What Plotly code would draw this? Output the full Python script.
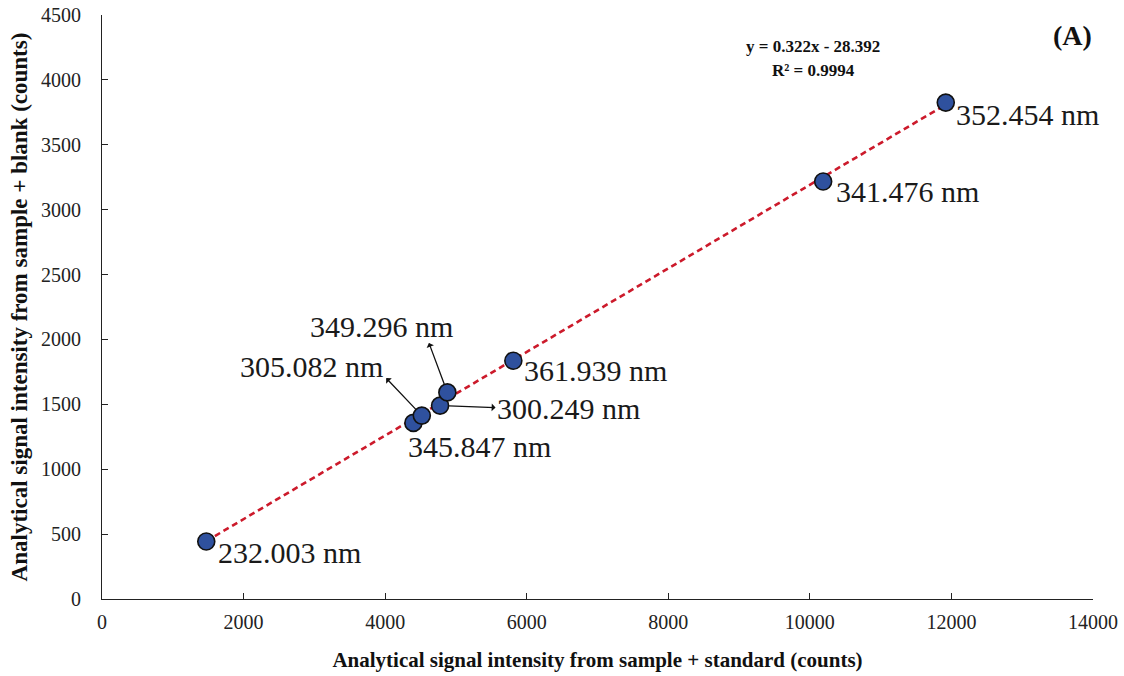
import plotly.graph_objects as go

# Emission lines and their analytical signals (counts)
lines = ["232.003 nm", "345.847 nm", "305.082 nm", "300.249 nm",
         "349.296 nm", "361.939 nm", "341.476 nm", "352.454 nm"]
signal_standard = [1473, 4399, 4518, 4776, 4879, 5811, 10188, 11920]
signal_blank = [443, 1357, 1413, 1490, 1592, 1836, 3217, 3825]

# Linear fit reported on the chart
slope = 0.322
intercept = -28.392
r_squared = 0.9994

SERIF = "Liberation Serif, Times New Roman, serif"

fit_x = [min(signal_standard), max(signal_standard)]
fit_y = [slope * v + intercept for v in fit_x]

fig = go.Figure()
fig.add_trace(go.Scatter(
    x=fit_x, y=fit_y, mode="lines",
    line=dict(color="#CC1A2B", width=2.6, dash="6px,4px"),
    hoverinfo="skip", showlegend=False,
))
fig.add_trace(go.Scatter(
    x=signal_standard, y=signal_blank, mode="markers",
    marker=dict(size=17, color="#2F519E", line=dict(color="#111111", width=1.6)),
    text=lines, showlegend=False,
))

# Label placement (pixel offsets from each marker) and optional arrows
label_style = {
    "232.003 nm": dict(xanchor="left", xshift=10, yshift=-11),
    "352.454 nm": dict(xanchor="left", xshift=8, yshift=-12),
    "341.476 nm": dict(xanchor="left", xshift=11, yshift=-10),
    "361.939 nm": dict(xanchor="left", xshift=9, yshift=-10),
    "345.847 nm": dict(xanchor="left", xshift=-7, yshift=-24),
    "300.249 nm": dict(xanchor="left", xshift=55, yshift=-3),
    "305.082 nm": dict(xanchor="right", xshift=-37, yshift=49),
    "349.296 nm": dict(xanchor="right", xshift=8, yshift=66),
}
arrow_style = {
    "300.249 nm": (57, 2),
    "305.082 nm": (-37, -39),
    "349.296 nm": (-19, -51),
}

annotations = []
for name, xv, yv in zip(lines, signal_standard, signal_blank):
    st = label_style[name]
    annotations.append(dict(
        x=xv, y=yv, xref="x", yref="y", text=name, showarrow=False,
        yanchor="middle", font=dict(family=SERIF, size=30, color="#1a1a1a"),
        **st,
    ))
    if name in arrow_style:
        ax, ay = arrow_style[name]
        annotations.append(dict(
            x=xv, y=yv, xref="x", yref="y", text="", showarrow=True,
            ax=ax, ay=ay, arrowside="start", arrowhead=2, arrowsize=1.5,
            arrowwidth=1.3, arrowcolor="#111111", standoff=9,
        ))

W, H = 1124, 676
L, R, T, B = 102, 31, 15, 77


def px_to_paper(px, py):
    return (px - L) / (W - L - R), 1 - (py - T) / (H - T - B)


header = [
    (f"<b>y = {slope}x - {abs(intercept)}</b>", 813, 46, 17),
    (f"<b>R² = {r_squared}</b>", 813, 71, 17),
    ("<b>(A)</b>", 1072, 36, 28),
]
for text, px, py, size in header:
    hx, hy = px_to_paper(px, py)
    annotations.append(dict(
        x=hx, y=hy, xref="paper", yref="paper", xanchor="center", yanchor="middle",
        text=text, showarrow=False, font=dict(family=SERIF, size=size, color="#111111"),
    ))

axis_common = dict(
    automargin=False,
    showgrid=False, zeroline=False, showline=True, linecolor="#222222",
    linewidth=1.2, ticks="inside", ticklen=6, tickcolor="#222222",
    tickformat="d", tickfont=dict(family=SERIF, size=20, color="#222222"),
)

fig.update_layout(
    width=W, height=H,
    margin=dict(l=L, r=R, t=T, b=B),
    plot_bgcolor="white", paper_bgcolor="white",
    annotations=annotations,
    xaxis=dict(
        range=[0, 14000], dtick=2000, tick0=0, ticklabelstandoff=5,
        title=dict(text="<b>Analytical signal intensity from sample + standard (counts)</b>",
                   font=dict(family=SERIF, size=21, color="#111111"), standoff=20),
        **axis_common,
    ),
    yaxis=dict(
        range=[0, 4500], dtick=500, tick0=0, ticklabelstandoff=16,
        title=dict(text="<b>Analytical signal intensity from sample + blank (counts)</b>",
                   font=dict(family=SERIF, size=23, color="#111111"), standoff=6),
        **axis_common,
    ),
)

fig.write_html("out.html")
